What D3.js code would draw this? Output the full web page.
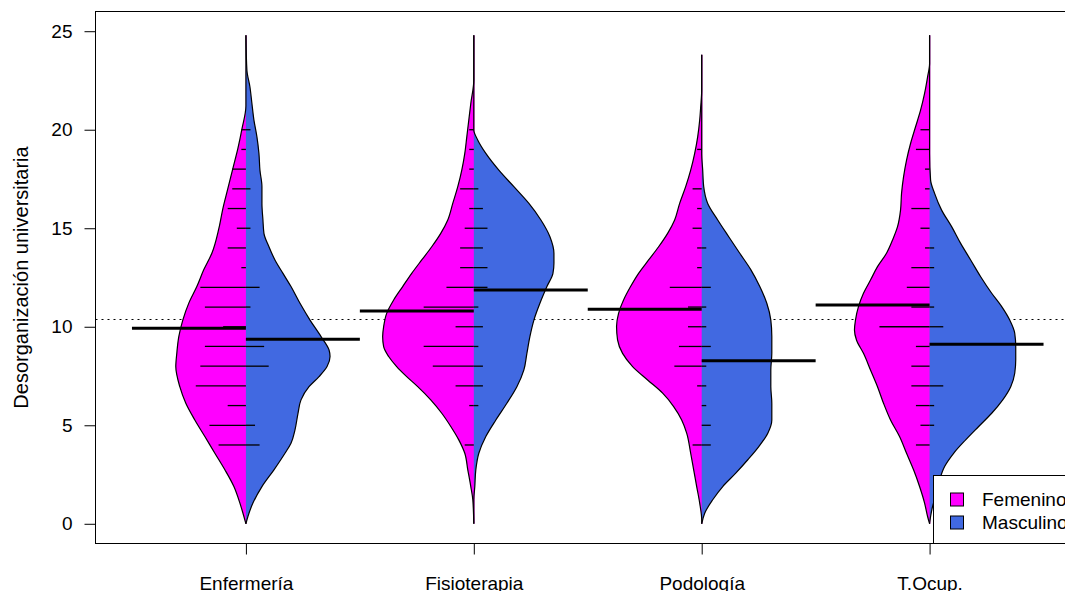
<!DOCTYPE html>
<html>
<head>
<meta charset="utf-8">
<script src="https://cdn.jsdelivr.net/npm/d3@7"></script>
<style>
  html, body { margin: 0; padding: 0; background: #ffffff; }
  svg { display: block; }
  text { font-family: "Liberation Sans", Arial, sans-serif; }
</style>
</head>
<body>
<svg id="chart" width="1065" height="591"></svg>
<script>
// ---------------- data ----------------
const categories = ["Enfermería", "Fisioterapia", "Podología", "T.Ocup."];
const groups = ["Femenino", "Masculino"];
const groupColors = ["#FF00FF", "#4169E1"];
const yTicks = [0, 5, 10, 15, 20, 25];
const yLabel = "Desorganización universitaria";

// group means (thick lines) and overall mean (dotted line)
const meanFem = [9.92, 10.80, 10.89, 11.10];
const meanMas = [9.37, 11.87, 8.28, 9.11];
const overallMean = 10.4;

// range of the thin stem of each bean
const stemTop = [24.8, 24.8, 23.8, 24.8];
const stemBottom = [0, 0, 0, 0];

// bean lines: values and number of observations at each value
const lineValues = [4, 5, 6, 7, 8, 9, 10, 11, 12, 13, 14, 15, 16, 17, 18, 19, 20];
const enfFemCounts = [6, 8, 4, 11, 10, 9, 5, 9, 10, 1, 4, 2, 4, 3, 3, 1, 1];
const enfMasCounts = [3, 2, 0, 0, 5, 4, 0, 1, 3, 0, 0, 1, 0, 1, 0, 0, 1];
const fisFemCounts = [2, 0, 1, 4, 9, 11, 4, 11, 6, 3, 3, 2, 1, 3, 1, 1, 1];
const fisMasCounts = [0, 0, 1, 2, 2, 1, 2, 1, 3, 3, 2, 3, 2, 1, 0, 0, 0];
const podFemCounts = [2, 0, 0, 1, 6, 5, 3, 3, 7, 1, 1, 2, 1, 2, 0, 1, 0];
const podMasCounts = [2, 2, 1, 1, 1, 2, 1, 1, 2, 0, 1, 0, 0, 0, 0, 0, 0];
const tocFemCounts = [3, 2, 3, 4, 4, 3, 11, 4, 5, 4, 1, 2, 4, 1, 1, 3, 2];
const tocMasCounts = [0, 1, 1, 3, 0, 0, 3, 1, 0, 1, 1, 0, 0, 0, 0, 0, 0];

// density outlines (relative density, max = 91) at score values
const enfFemV = [21.2, 20.03, 19.05, 18.04, 17.02, 16.0, 14.99, 13.73, 12.9, 12.04, 11.2, 10.34, 9.5, 8.65, 7.98, 6.96, 6.12, 5.27, 4.43, 3.58, 2.74, 1.89, 1.05, 0.37];
const enfFemD = [0, 4, 8, 13, 18, 23, 27, 34, 42, 49, 57, 63, 67, 69, 70, 66, 60, 51, 41, 31, 21, 12, 6, 2];
const enfMasV = [23.02, 22.18, 21.33, 20.49, 19.64, 18.8, 17.95, 17.11, 16.26, 15.42, 14.74, 14.06, 13.39, 12.71, 12.04, 11.19, 10.34, 9.5, 8.82, 8.49, 7.98, 7.47, 6.96, 6.29, 5.61, 4.77, 4.09, 3.58, 2.74, 1.89, 1.05, 0.37];
const enfMasD = [1, 4, 6, 8, 11, 13, 14, 16, 16, 17, 18, 23, 29, 37, 45, 54, 64, 75, 83, 84, 81, 73, 63, 55, 52, 49, 45, 39, 28, 16, 7, 2];
const fisFemV = [22.52, 21.33, 20.49, 19.64, 18.8, 17.95, 17.11, 16.26, 15.42, 14.74, 14.06, 13.39, 12.71, 12.04, 11.36, 10.68, 10.01, 9.5, 8.99, 8.49, 7.98, 7.47, 6.96, 6.29, 5.61, 4.94, 4.26, 3.58, 2.74, 1.89, 1.22];
const fisFemD = [0, 3, 5, 7, 9, 12, 16, 21, 26, 33, 42, 52, 62, 71, 80, 87, 90, 91, 90, 85, 77, 67, 56, 43, 32, 23, 15, 9, 6, 3, 1];
const fisMasV = [19.98, 19.47, 18.8, 17.95, 17.11, 16.26, 15.42, 14.57, 13.73, 13.22, 12.71, 12.04, 11.19, 10.34, 9.5, 8.65, 7.81, 6.96, 6.12, 5.27, 4.43, 3.58, 2.74, 1.89, 1.22];
const fisMasD = [0, 4, 12, 25, 40, 55, 67, 76, 80, 80, 79, 73, 66, 60, 56, 53, 50, 43, 33, 22, 12, 5, 2, 1, 0];
const podFemV = [22.01, 21.16, 20.49, 19.64, 18.8, 17.95, 17.11, 16.26, 15.42, 14.74, 14.06, 13.39, 12.71, 12.04, 11.36, 10.68, 10.01, 9.33, 8.65, 7.98, 7.3, 6.63, 5.95, 5.27, 4.6, 3.58, 2.74, 1.89, 1.05, 0.2];
const podFemD = [0, 1, 2, 4, 7, 11, 16, 22, 27, 34, 43, 53, 63, 71, 78, 83, 85, 84, 79, 69, 54, 39, 28, 20, 15, 11, 8, 5, 2, 0];
const podMasV = [18.8, 17.95, 17.11, 16.26, 15.42, 14.57, 13.73, 12.9, 12.04, 11.19, 10.34, 9.5, 8.65, 7.81, 6.96, 6.12, 5.27, 4.6, 3.92, 3.25, 2.57, 1.89, 1.22, 0.54];
const podMasD = [0, 1, 2, 6, 16, 27, 38, 49, 58, 65, 69, 70, 70, 69, 69, 70, 70, 66, 57, 46, 34, 21, 11, 3];
const tocFemV = [23.36, 22.68, 21.84, 20.99, 20.15, 19.3, 18.46, 17.61, 16.77, 15.92, 15.08, 14.4, 13.73, 13.05, 12.37, 11.7, 11.02, 10.34, 9.84, 9.33, 8.65, 7.81, 6.96, 6.12, 5.27, 4.43, 3.58, 2.74, 1.89, 1.05, 0.37];
const tocFemD = [0, 2, 5, 9, 14, 19, 23, 26, 28, 29, 32, 37, 43, 52, 59, 66, 71, 74, 75, 73, 66, 59, 52, 46, 39, 30, 23, 16, 10, 5, 2];
const tocMasV = [18.8, 17.44, 16.77, 15.92, 15.08, 14.23, 13.39, 12.54, 11.7, 11.02, 10.34, 9.67, 8.99, 8.32, 7.64, 6.96, 6.29, 5.61, 4.94, 4.26, 3.58, 2.91, 2.23, 1.56, 0.88, 0.37];
const tocMasD = [0, 1, 5, 12, 22, 31, 41, 51, 62, 72, 80, 85, 86, 86, 85, 81, 73, 62, 49, 36, 24, 15, 10, 7, 3, 1];

// ---------------- assemble ----------------
const densV = [[enfFemV, enfMasV], [fisFemV, fisMasV], [podFemV, podMasV], [tocFemV, tocMasV]];
const densD = [[enfFemD, enfMasD], [fisFemD, fisMasD], [podFemD, podMasD], [tocFemD, tocMasD]];
const counts = [[enfFemCounts, enfMasCounts], [fisFemCounts, fisMasCounts], [podFemCounts, podMasCounts], [tocFemCounts, tocMasCounts]];
const means = [meanFem, meanMas];

// ---------------- layout ----------------
const svg = d3.select("#chart");
const FONT = 19;
const plotL = 95.5, plotR = 1080, plotT = 11.5, plotB = 543.5;
const x = d3.scaleLinear().domain([0.34, 4.66]).range([plotL, plotR]);
const y = d3.scaleLinear().domain([-1, 26]).range([plotB, plotT]);
const maxHalfWidth = 0.4;
const dens = d3.scaleLinear().domain([0, 91]).range([0, maxHalfWidth]);
const lineUnit = 0.02;   // bean line length per observation
const meanHalf = 0.5;    // length of the mean line on each side

// overall mean (behind beans)
const yMean = Math.round(y(overallMean)) + 0.5;
svg.append("line")
  .attr("x1", plotL).attr("x2", plotR)
  .attr("y1", yMean).attr("y2", yMean)
  .attr("stroke", "#000").attr("stroke-width", 1)
  .attr("stroke-dasharray", "2,4");

const sides = [-1, 1];
categories.forEach((cat, i) => {
  const pos = i + 1;
  const g = svg.append("g");
  const ptsOf = s => [{ v: stemTop[i], d: 0 }]
    .concat(densV[i][s].map((v, k) => ({ v: v, d: densD[i][s][k] })))
    .concat([{ v: stemBottom[i], d: 0 }]);
  sides.forEach((side, s) => {
    // the left half reaches slightly under the right half to avoid a seam
    const base = s === 0 ? x(pos) + 0.7 : x(pos);
    const area = d3.area().curve(d3.curveMonotoneY)
      .y(p => y(p.v))
      .x0(base)
      .x1(p => x(pos + side * dens(p.d)));
    g.append("path").attr("d", area(ptsOf(s)))
      .attr("fill", groupColors[s]).attr("stroke", "none");
  });
  sides.forEach((side, s) => {
    const line = d3.line().curve(d3.curveMonotoneY)
      .x(p => x(pos + side * dens(p.d)))
      .y(p => y(p.v));
    g.append("path").attr("d", line(ptsOf(s)))
      .attr("fill", "none").attr("stroke", "#000").attr("stroke-width", 1.2);
  });
  // bean lines
  sides.forEach((side, s) => {
    lineValues.forEach((v, k) => {
      const c = counts[i][s][k];
      if (!c) return;
      g.append("line")
        .attr("x1", x(pos)).attr("x2", x(pos + side * c * lineUnit))
        .attr("y1", y(v)).attr("y2", y(v))
        .attr("stroke", "#000").attr("stroke-width", 1.3);
    });
  });
  // mean lines
  sides.forEach((side, s) => {
    g.append("line")
      .attr("x1", x(pos)).attr("x2", x(pos + side * meanHalf))
      .attr("y1", y(means[s][i])).attr("y2", y(means[s][i]))
      .attr("stroke", "#000").attr("stroke-width", 3);
  });
});

// box
svg.append("rect")
  .attr("x", plotL).attr("y", plotT)
  .attr("width", plotR - plotL).attr("height", plotB - plotT)
  .attr("fill", "none").attr("stroke", "#000").attr("stroke-width", 1);

// y axis
const yAxis = svg.append("g")
  .attr("transform", `translate(${plotL},0)`)
  .call(d3.axisLeft(y).tickValues(yTicks).tickSize(11).tickPadding(12).tickFormat(d3.format("d")));
yAxis.select(".domain").remove();
yAxis.selectAll("line").attr("stroke", "#000");
yAxis.selectAll("text").attr("font-size", FONT).attr("fill", "#000")
  .attr("font-family", "Liberation Sans, Arial, sans-serif");

// x axis
const xAxis = svg.append("g")
  .attr("transform", `translate(0,${plotB})`)
  .call(d3.axisBottom(x).tickValues([1, 2, 3, 4]).tickSize(11).tickPadding(22)
    .tickFormat(d => categories[d - 1]));
xAxis.select(".domain").remove();
xAxis.selectAll("line").attr("stroke", "#000");
xAxis.selectAll("text").attr("font-size", FONT).attr("fill", "#000")
  .attr("font-family", "Liberation Sans, Arial, sans-serif");

// y label
svg.append("text")
  .attr("transform", `translate(27.5,${(plotT + plotB) / 2}) rotate(-90)`)
  .attr("text-anchor", "middle")
  .attr("font-size", 20)
  .attr("fill", "#000")
  .text(yLabel);

// legend
const leg = svg.append("g");
leg.append("rect")
  .attr("x", 933.5).attr("y", 475.5)
  .attr("width", plotR - 933.5).attr("height", plotB - 475.5)
  .attr("fill", "#fff").attr("stroke", "#000").attr("stroke-width", 1);
groups.forEach((gname, k) => {
  const cy = 499.5 + k * 23;
  leg.append("rect")
    .attr("x", 950.5).attr("y", cy - 6.5).attr("width", 13).attr("height", 13)
    .attr("fill", groupColors[k]).attr("stroke", "#000").attr("stroke-width", 1);
  leg.append("text")
    .attr("x", 982).attr("y", cy).attr("dy", "0.35em")
    .attr("font-size", FONT).attr("fill", "#000")
    .text(gname);
});
</script>
</body>
</html>
